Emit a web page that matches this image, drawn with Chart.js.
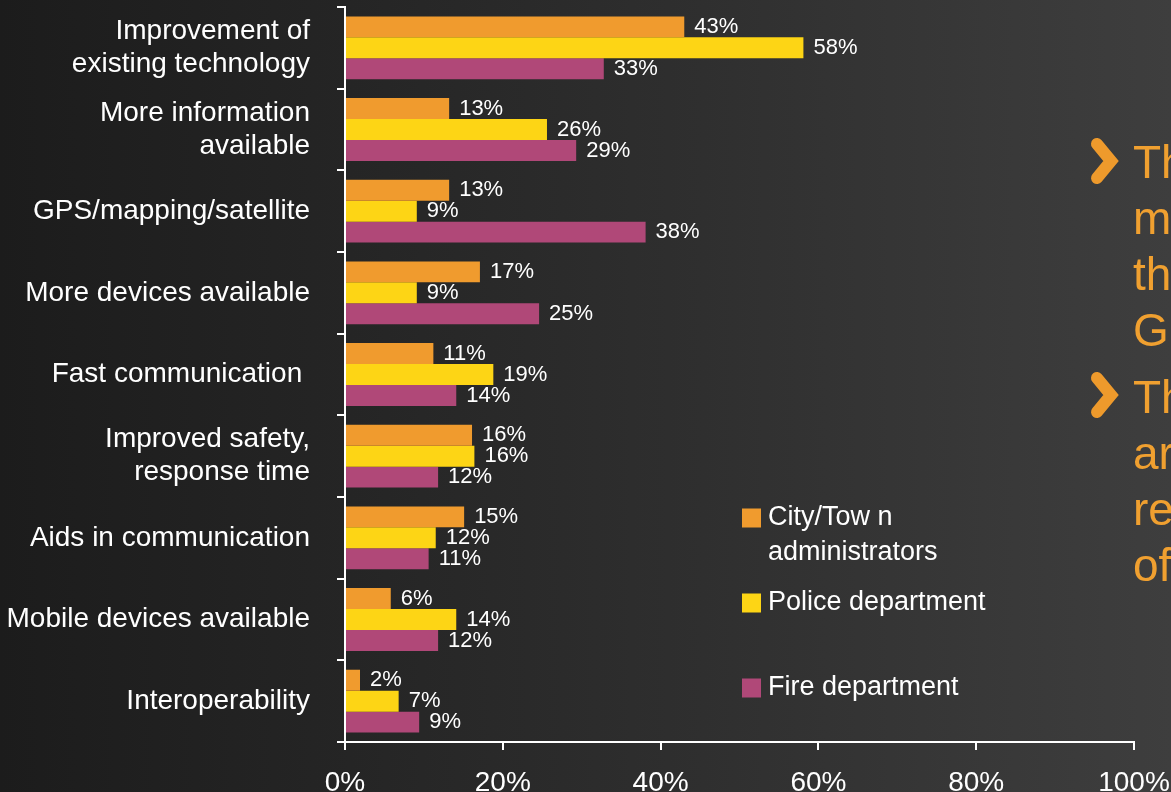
<!DOCTYPE html>
<html>
<head>
<meta charset="utf-8">
<script src="https://cdn.jsdelivr.net/npm/chart.js@4.4.1/dist/chart.umd.min.js"></script>
<style>
  html, body { margin: 0; padding: 0; }
  body {
    width: 1171px; height: 792px; overflow: hidden;
    background: linear-gradient(90deg, #1c1c1c 0%, #252525 30%, #2f2f2f 60%, #3e3e3e 100%);
  }
  #wrap { position: absolute; left: 0; top: 0; width: 1171px; height: 792px; }
</style>
</head>
<body>
<div id="wrap"><canvas id="c" width="1171" height="792"></canvas></div>
<script>
const categories = [
  ["Improvement of", "existing technology"],
  ["More information", "available"],
  "GPS/mapping/satellite",
  "More devices available",
  "Fast communication ",
  ["Improved safety,", "response time"],
  "Aids in communication",
  "Mobile devices available",
  "Interoperability"
];
const seriesNames = [["City/Tow n", "administrators"], "Police department", "Fire department"];
const cityValues   = [43.0, 13.2, 13.2, 17.1, 11.2, 16.1, 15.1, 5.8, 1.9];
const policeValues = [58.1, 25.6, 9.1, 9.1, 18.8, 16.4, 11.5, 14.1, 6.8];
const fireValues   = [32.8, 29.3, 38.1, 24.6, 14.1, 11.8, 10.6, 11.8, 9.4];
const xTickLabels  = ["0%", "20%", "40%", "60%", "80%", "100%"];
const bulletGroups = [["Th", "m", "th", "G"], ["Th", "ar", "re", "of"]];

const FONT = '"Liberation Sans", Arial, Helvetica, sans-serif';
const colors = ["#F09B2E", "#FDD515", "#B04878"];

const dataLabelPlugin = {
  id: 'dataLabels',
  afterDatasetsDraw(chart) {
    const ctx = chart.ctx;
    ctx.save();
    ctx.font = '22px ' + FONT;
    ctx.fillStyle = '#ffffff';
    ctx.textAlign = 'left';
    ctx.textBaseline = 'middle';
    chart.data.datasets.forEach((ds, di) => {
      const meta = chart.getDatasetMeta(di);
      meta.data.forEach((bar, i) => {
        ctx.fillText(Math.round(ds.data[i]) + '%', bar.x + 10, bar.y);
      });
    });
    ctx.restore();
  }
};

const legendPlugin = {
  id: 'customLegend',
  afterDraw(chart) {
    const ctx = chart.ctx;
    const rows = [518, 603, 688];
    ctx.save();
    ctx.font = '27px ' + FONT;
    ctx.textBaseline = 'middle';
    ctx.textAlign = 'left';
    chart.data.datasets.forEach((ds, di) => {
      const y = rows[di];
      ctx.fillStyle = ds.backgroundColor;
      ctx.fillRect(742, y - 9.5, 19, 19);
      ctx.fillStyle = '#ffffff';
      const lines = Array.isArray(ds.label) ? ds.label : [ds.label];
      lines.forEach((t, li) => ctx.fillText(t, 768, y + li * 35));
    });
    ctx.restore();
  }
};

const bulletPlugin = {
  id: 'bulletText',
  afterDraw(chart) {
    const ctx = chart.ctx;
    const starts = [178, 413];
    const chevronY = [161, 395];
    ctx.save();
    bulletGroups.forEach((lines, gi) => {
      const cy = chevronY[gi];
      ctx.strokeStyle = '#EE9A2C';
      ctx.lineWidth = 12;
      ctx.lineCap = 'round';
      ctx.lineJoin = 'miter';
      ctx.beginPath();
      ctx.moveTo(1097, cy - 17);
      ctx.lineTo(1111, cy);
      ctx.lineTo(1097, cy + 17);
      ctx.stroke();
      ctx.fillStyle = '#F0A030';
      ctx.font = '46px ' + FONT;
      ctx.textAlign = 'left';
      ctx.textBaseline = 'alphabetic';
      lines.forEach((t, li) => ctx.fillText(t, 1133, starts[gi] + li * 56));
    });
    ctx.restore();
  }
};

new Chart(document.getElementById('c'), {
  type: 'bar',
  data: {
    labels: categories,
    datasets: [
      { label: seriesNames[0], data: cityValues, backgroundColor: colors[0] },
      { label: seriesNames[1], data: policeValues, backgroundColor: colors[1] },
      { label: seriesNames[2], data: fireValues, backgroundColor: colors[2] }
    ]
  },
  options: {
    indexAxis: 'y',
    responsive: false,
    animation: false,
    devicePixelRatio: 1,
    categoryPercentage: 0.77,
    barPercentage: 1.0,
    layout: { padding: { left: 0, right: 37, top: 7, bottom: 0 } },
    plugins: { legend: { display: false }, tooltip: { enabled: false } },
    scales: {
      x: {
        min: 0, max: 100,
        afterFit(scale) { scale.height = 50; scale.paddingLeft = 0; scale.paddingRight = 0; },
        ticks: {
          stepSize: 20,
          autoSkip: false,
          maxRotation: 0,
          color: '#ffffff',
          font: { family: FONT, size: 28 },
          padding: 16,
          callback: (v, i) => xTickLabels[i]
        },
        grid: { display: true, drawOnChartArea: false, drawTicks: true, tickLength: 8, color: '#ffffff', lineWidth: 2 },
        border: { display: true, color: '#ffffff', width: 2 }
      },
      y: {
        afterFit(scale) { scale.width = 345; scale.paddingTop = 0; scale.paddingBottom = 0; },
        ticks: {
          autoSkip: false,
          color: '#ffffff',
          font: { family: FONT, size: 28, lineHeight: 1.18 },
          padding: 27
        },
        grid: { display: true, offset: true, drawOnChartArea: false, drawTicks: true, tickLength: 8, color: '#ffffff', lineWidth: 2 },
        border: { display: true, color: '#ffffff', width: 2 }
      }
    }
  },
  plugins: [dataLabelPlugin, legendPlugin, bulletPlugin]
});
</script>
</body>
</html>
